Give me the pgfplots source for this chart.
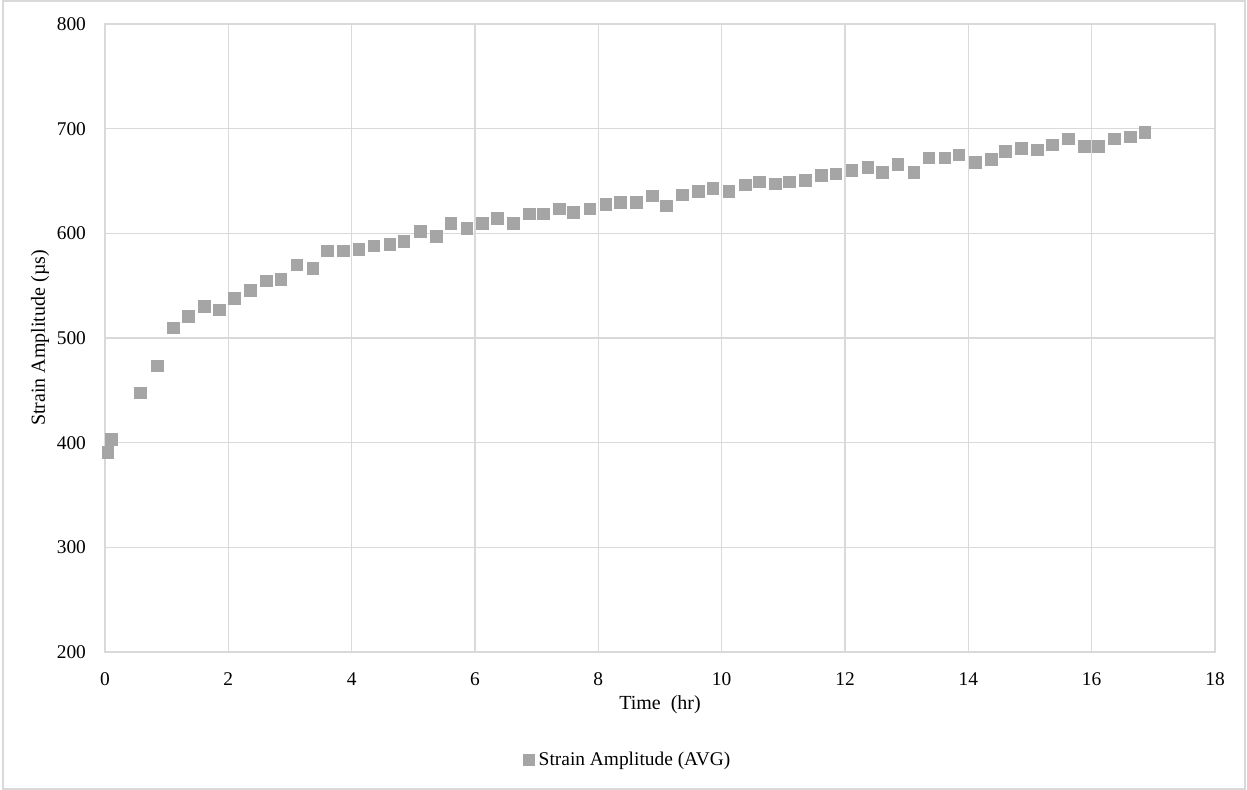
\documentclass[border=0pt]{standalone}
\usepackage{fontspec}
\setmainfont{Liberation Serif}
\usepackage{pgfplots}
\pgfplotsset{compat=1.18}
\definecolor{mk}{HTML}{A5A5A5}
\definecolor{gr}{HTML}{D9D9D9}
\begin{document}
\begin{tikzpicture}
\useasboundingbox (-52.5pt,-69pt) rectangle (571pt,326pt);
\draw[gr, line width=0.75pt] (-51pt,-68.5pt) rectangle (570pt,325.5pt);
\begin{axis}[
  at={(0pt,0pt)}, anchor=south west,
  scale only axis, width=555pt, height=314pt,
  xmin=0, xmax=18, ymin=200, ymax=800,
  xtick distance=2, ytick distance=100,
  grid=major, major grid style={gr, line width=0.75pt},
  axis line style={gr, line width=0.75pt},
  major tick length=0pt,
  tick label style={font=\fontsize{9.7}{11}\selectfont},
  /pgf/number format/assume math mode=true,
  xticklabel style={yshift=-7pt},
  yticklabel style={xshift=-6pt},
  xlabel={Time\ \ (hr)}, ylabel={Strain Amplitude (µs)},
  label style={font=\fontsize{10}{12}\selectfont},
  xlabel style={at={(axis description cs:0.5,-0.0844)}, anchor=center},
  ylabel style={at={(axis description cs:-0.0586,0.5)}, anchor=center},
  legend style={at={(axis description cs:0.4716,-0.172)}, anchor=center, draw=none,
    font=\fontsize{9.7}{11}\selectfont, inner sep=0pt},
  legend image code/.code={\fill[mk] (0pt,-2.7pt) rectangle (5.6pt,2.7pt);},
]
\addplot[only marks, mark=square*, mark size=2.9pt, mark options={fill=mk, draw=mk}] coordinates {
(0.05,390.5)(0.10,403)(0.57,447.4)(0.85,473.4)
(1.11,509.8)(1.35,520.7)(1.61,530)(1.86,527)(2.10,537.6)(2.36,545.2)(2.62,554.5)(2.85,556)
(3.11,569.8)(3.37,566.6)(3.61,583.1)(3.87,583.1)(4.12,584.7)(4.36,587.9)(4.62,589.5)(4.85,592)
(5.11,601.6)(5.37,597.2)(5.61,609.2)(5.87,604.8)(6.12,609.2)(6.36,614)(6.62,609.2)(6.88,618.5)
(7.11,618.5)(7.37,623.3)(7.60,620.1)(7.86,623.3)(8.12,627.7)(8.36,629.3)(8.62,629.3)(8.88,635.7)
(9.10,626.3)(9.36,636.9)(9.62,639.8)(9.86,643)(10.12,639.8)(10.38,646.2)(10.61,649)(10.87,647.4)
(11.10,649)(11.36,650.7)(11.62,655.1)(11.85,656.7)(12.11,659.9)(12.37,662.7)(12.61,658.3)(12.86,665.9)
(13.12,658.3)(13.36,672)(13.62,672)(13.85,675.1)(14.11,667.5)(14.37,670.4)(14.60,678)(14.86,681.2)
(15.12,679.6)(15.36,684.4)(15.62,690.4)(15.88,682.8)(16.11,682.8)(16.37,690.4)(16.63,692)(16.86,696.5)
};
\addlegendentry{Strain Amplitude (AVG)}
\end{axis}
\end{tikzpicture}
\end{document}
